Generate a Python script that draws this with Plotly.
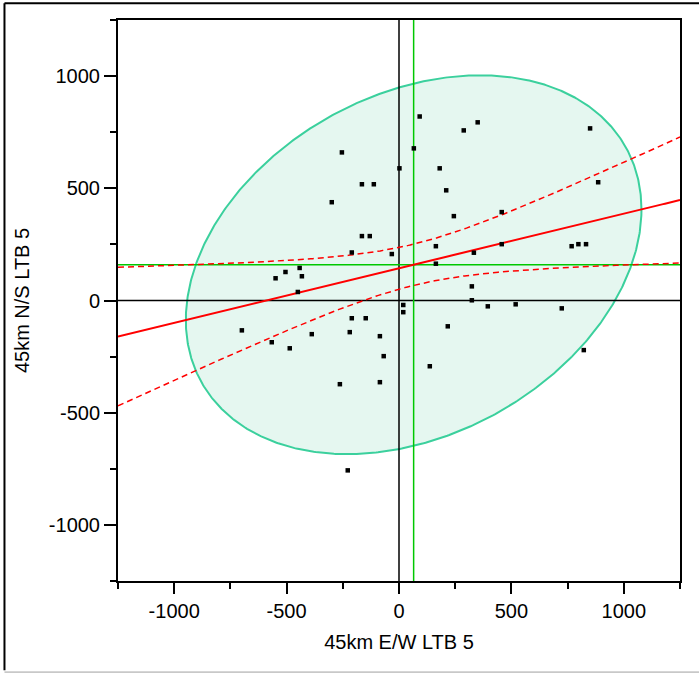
import numpy as np
import plotly.graph_objects as go

# 45km E/W LTB 5 (x) and 45km N/S LTB 5 (y)
ew = [-254, 2, -165, -112, -299, -165, -130, -210, -32, -549, -505, -442, -432, -450,
      92, 350, 288, 850, 66, 181, 210, 244, 457, 886, 164, 457, 333, 768, 798, 832,
      164, 324, 324, 395, 519, 724, -699, -566, -486, -388, -219, -210, -148, -85,
      -68, -263, -85, -228, 19, 19, 217, 137, 822]
ns = [660, 589, 518, 518, 438, 287, 287, 214, 207, 99, 127, 145, 108, 38,
      820, 794, 758, 767, 678, 589, 491, 376, 394, 527, 242, 251, 213, 242, 251, 251,
      164, 63, 1, -26, -17, -35, -133, -186, -213, -150, -141, -79, -79, -159,
      -248, -373, -364, -757, -20, -52, -115, -293, -221]

x_ticks = [-1000, -500, 0, 500, 1000]
x_tick_text = ["-1000", "-500", "0", "500", "1000"]
y_ticks = [-1000, -500, 0, 500, 1000]
y_tick_text = ["-1000", "-500", "0", "500", "1000"]
AX_RANGE = [-1250, 1250]
ELLIPSE_P = 0.95
T_CRIT = 2.0076  # t(0.975, df=51)

x = np.array(ew, float)
y = np.array(ns, float)
n = len(x)
xbar, ybar = x.mean(), y.mean()
Sxx = ((x - xbar) ** 2).sum()
Sxy = ((x - xbar) * (y - ybar)).sum()
b1 = Sxy / Sxx
b0 = ybar - b1 * xbar
s = np.sqrt(((y - b0 - b1 * x) ** 2).sum() / (n - 2))

# regression line and 95% confidence curves for the fit
xs = np.linspace(AX_RANGE[0], AX_RANGE[1], 301)
fit = b0 + b1 * xs
half = T_CRIT * s * np.sqrt(1 / n + (xs - xbar) ** 2 / Sxx)

# 95% bivariate normal density ellipse
cov = np.cov(np.vstack([x, y]))
L = np.linalg.cholesky(cov)
c = np.sqrt(-2 * np.log(1 - ELLIPSE_P))
th = np.linspace(0, 2 * np.pi, 721)
E = L @ np.vstack([np.cos(th), np.sin(th)]) * c
ex = xbar + E[0]
ey = ybar + E[1]

fig = go.Figure()
fig.add_trace(go.Scatter(x=ex, y=ey, mode="lines", fill="toself",
                         fillcolor="#e5f7f0", line=dict(color="#3bd09d", width=2),
                         hoverinfo="skip", showlegend=False))
fig.add_trace(go.Scatter(x=[0, 0], y=AX_RANGE, mode="lines",
                         line=dict(color="black", width=1.5), showlegend=False))
fig.add_trace(go.Scatter(x=AX_RANGE, y=[0, 0], mode="lines",
                         line=dict(color="black", width=1.5), showlegend=False))
fig.add_trace(go.Scatter(x=[xbar, xbar], y=AX_RANGE, mode="lines",
                         line=dict(color="#00c800", width=1.5), showlegend=False))
fig.add_trace(go.Scatter(x=AX_RANGE, y=[ybar, ybar], mode="lines",
                         line=dict(color="#00c800", width=1.5), showlegend=False))
fig.add_trace(go.Scatter(x=xs, y=fit + half, mode="lines",
                         line=dict(color="red", width=1.5, dash="6px,4px"), showlegend=False))
fig.add_trace(go.Scatter(x=xs, y=fit - half, mode="lines",
                         line=dict(color="red", width=1.5, dash="6px,4px"), showlegend=False))
fig.add_trace(go.Scatter(x=xs, y=fit, mode="lines",
                         line=dict(color="red", width=2), showlegend=False))
fig.add_trace(go.Scatter(x=x, y=y, mode="markers",
                         marker=dict(symbol="square", size=4.5, color="black"), showlegend=False))

shapes = [
    # outer frame
    dict(type="line", xref="paper", yref="paper", x0=-0.202, x1=1.04, y0=1.0298, y1=1.0298,
         line=dict(color="black", width=2)),
    dict(type="line", xref="paper", yref="paper", x0=-0.202, x1=-0.202, y0=1.0298, y1=-0.159,
         line=dict(color="black", width=2)),
    dict(type="line", xref="paper", yref="paper", x0=-0.202, x1=1.04, y0=-0.1625, y1=-0.1625,
         line=dict(color="#c8c8c8", width=2)),
]

font = dict(family="Liberation Sans, Arial, sans-serif", size=20, color="black")
axis_common = dict(range=AX_RANGE, showgrid=False, zeroline=False, showline=True,
                   linecolor="black", linewidth=2, mirror=True, ticks="outside",
                   tickwidth=2, tickcolor="black",
                   minor=dict(dtick=250, ticks="outside", ticklen=6, tickwidth=2,
                              tickcolor="black", showgrid=False),
                   tickfont=font)
fig.update_xaxes(**axis_common, tickvals=x_ticks, ticktext=x_tick_text, ticklen=11,
                 title=dict(text="45km E/W LTB 5", font=font, standoff=14))
fig.update_yaxes(**axis_common, tickvals=y_ticks, ticktext=y_tick_text, ticklen=12,
                 title=dict(text="45km N/S LTB 5", font=font, standoff=14))

fig.update_layout(width=699, height=673, margin=dict(l=118, r=19, t=20, b=92),
                  plot_bgcolor="white", paper_bgcolor="white", font=font,
                  showlegend=False, shapes=shapes)
fig.write_html("out.html", post_script="document.body.style.margin='0';",
               config={"displayModeBar": False})
